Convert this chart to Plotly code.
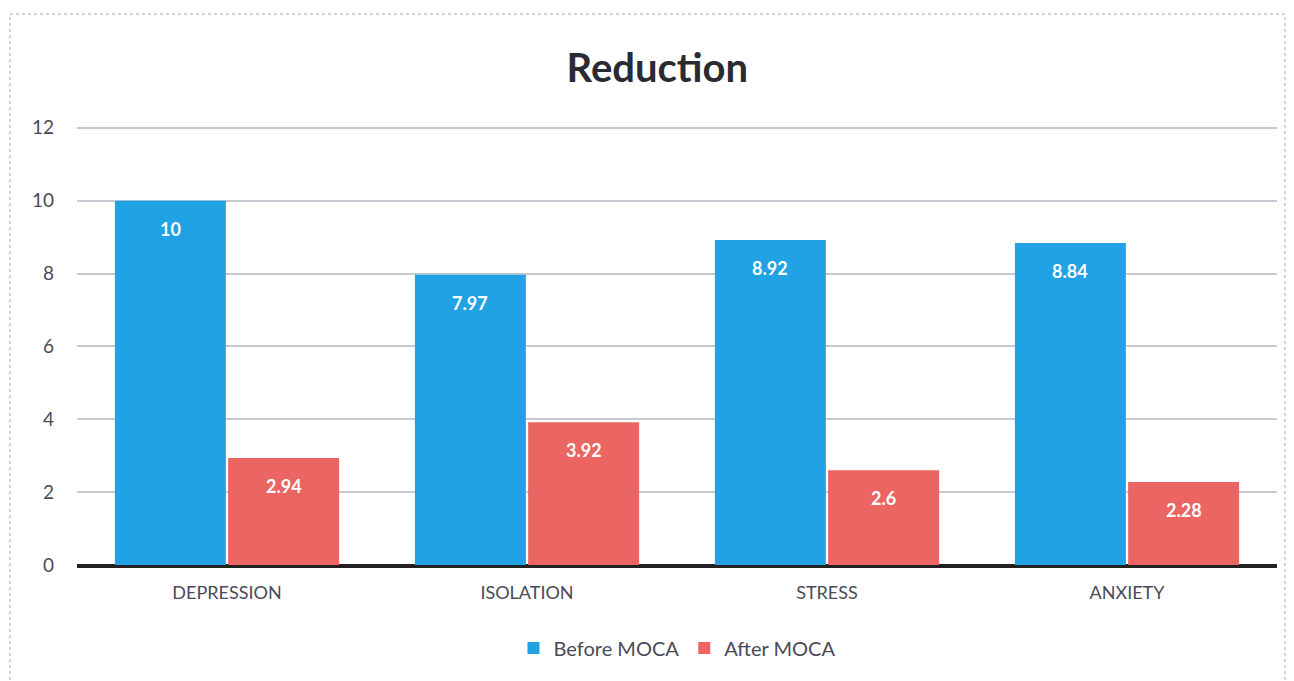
import plotly.graph_objects as go

categories = ["DEPRESSION", "ISOLATION", "STRESS", "ANXIETY"]
before_moca = [10, 7.97, 8.92, 8.84]
after_moca = [2.94, 3.92, 2.6, 2.28]
y_ticks = [0, 2, 4, 6, 8, 10, 12]

BLUE = "#21a2e4"
RED = "#eb6562"
TEXT = "#4a4a58"
FONT = "Lato"

W, H = 1294, 681
ml, mr, mt, mb = 77, 17, 126, 116
pw, ph = W - ml - mr, H - mt - mb
BARGAP, GROUPGAP = 0.245, 0.02

fig = go.Figure()
fig.add_trace(go.Bar(name="Before MOCA", x=categories, y=before_moca,
                     marker=dict(color=BLUE, line=dict(width=0))))
fig.add_trace(go.Bar(name="After MOCA", x=categories, y=after_moca,
                     marker=dict(color=RED, line=dict(width=0))))

# value labels placed just below the top of each bar
slot = pw / len(categories)
bar_w = slot * (1 - BARGAP) / 2
for series, sign in ((before_moca, -1), (after_moca, 1)):
    for cat, v in zip(categories, series):
        fig.add_annotation(x=cat, y=v, xref="x", yref="y", text=f"<b>{v:g}</b>",
                           showarrow=False, xshift=sign * bar_w / 2, yshift=-28,
                           yanchor="middle",
                           font=dict(color="white", size=18, family=FONT))

# dashed frame around the whole chart
fig.add_shape(type="rect", xref="paper", yref="paper",
              x0=(10 - ml) / pw, x1=(1285 - ml) / pw,
              y0=-(mb + 20) / ph, y1=(H - 14 - mb) / ph,
              line=dict(color="#c4c4cc", width=1.5, dash="dot"),
              fillcolor="rgba(0,0,0,0)", layer="below")

fig.update_layout(
    width=W, height=H,
    margin=dict(l=ml, r=mr, t=mt, b=mb),
    paper_bgcolor="white", plot_bgcolor="white",
    barmode="group", bargap=BARGAP, bargroupgap=GROUPGAP,
    title=dict(text="<b>Reduction</b>", x=0.508, xanchor="center",
               y=1 - 68 / H, yanchor="middle",
               font=dict(family=FONT, size=40, color="#2a2a33")),
    font=dict(family=FONT, color=TEXT, size=17),
    legend=dict(orientation="h", x=0.5, xanchor="center",
                y=-(648 - (H - mb)) / ph, yanchor="middle",
                font=dict(size=20, color=TEXT, family=FONT),
                itemwidth=30, tracegroupgap=0),
    showlegend=True,
)
fig.update_xaxes(showgrid=False, showline=True, linecolor="#222",
                 linewidth=2.5, ticks="", tickfont=dict(size=18, color=TEXT),
                 ticklabelstandoff=10)
fig.update_yaxes(range=[0, 12.05], tickvals=y_ticks, showgrid=True,
                 gridcolor="#c9c9d3", gridwidth=1.5, zeroline=True,
                 zerolinecolor="#222", zerolinewidth=2.5,
                 tickfont=dict(size=19, color=TEXT), ticklabelstandoff=22)

fig.write_html("out.html")
